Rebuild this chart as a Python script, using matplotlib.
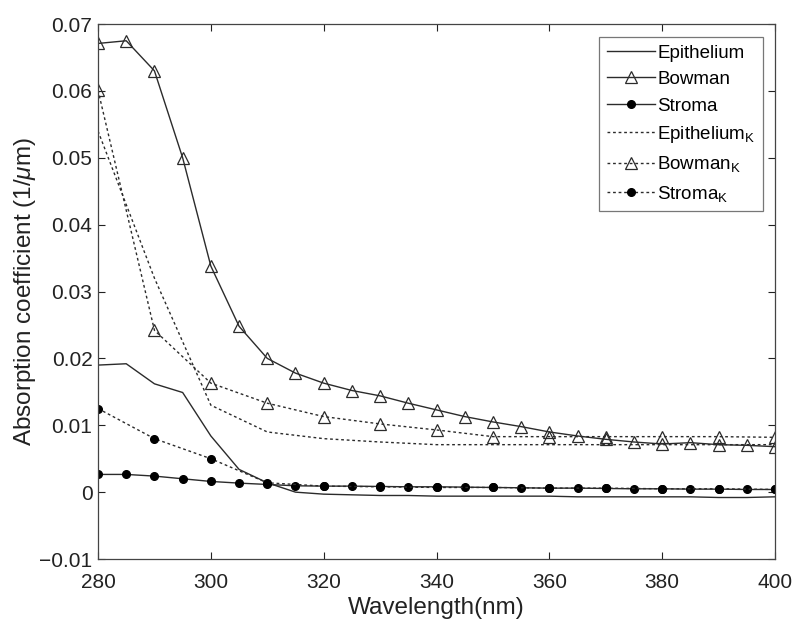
import numpy as np
import matplotlib
matplotlib.use('Agg')
import matplotlib.pyplot as plt

# --------------------------------------------------------------
# Data
# --------------------------------------------------------------
wl = np.arange(280, 401, 5)
wl_k = np.arange(280, 401, 10)

epithelium = [0.0190, 0.0192, 0.0162, 0.0149, 0.0084, 0.0034, 0.0014, 0.0000,
              -0.0003, -0.0004, -0.0005, -0.0005, -0.0006, -0.0006, -0.0006,
              -0.0006, -0.0006, -0.0007, -0.0007, -0.0007, -0.0007, -0.0007,
              -0.0008, -0.0008, -0.0007]
bowman = [0.0671, 0.0675, 0.0630, 0.0500, 0.0338, 0.0248, 0.0200, 0.0178,
          0.0163, 0.0152, 0.0144, 0.0133, 0.0123, 0.0113, 0.0105, 0.0098,
          0.0090, 0.0084, 0.0079, 0.0075, 0.0072, 0.0074, 0.0071, 0.0070,
          0.0068]
stroma = [0.00265, 0.00265, 0.0024, 0.0020, 0.0016, 0.00135, 0.00115, 0.00095,
          0.0009, 0.0009, 0.00085, 0.0008, 0.0008, 0.00075, 0.0007, 0.00065,
          0.0006, 0.0006, 0.00055, 0.0005, 0.0005, 0.00045, 0.00045, 0.0004,
          0.0004]

epithelium_k = [0.0540, 0.0320, 0.0130, 0.0090, 0.0080, 0.0075, 0.0071,
                0.0071, 0.0071, 0.0071, 0.0071, 0.0071, 0.0071]
bowman_k = [0.0601, 0.0242, 0.0163, 0.0133, 0.0113, 0.0102, 0.0093,
            0.0083, 0.0083, 0.0083, 0.0083, 0.0083, 0.0082]
stroma_k = [0.0125, 0.0080, 0.0050, 0.0014, 0.0009, 0.0008, 0.0007,
            0.0007, 0.0006, 0.0006, 0.0005, 0.0005, 0.0004]

# --------------------------------------------------------------
# Plot settings
# --------------------------------------------------------------
plt.rcParams['font.family'] = ['Liberation Sans', 'DejaVu Sans']
plt.rcParams['mathtext.fontset'] = 'custom'
plt.rcParams['mathtext.rm'] = 'Liberation Sans'
plt.rcParams['mathtext.it'] = 'Liberation Sans:italic'

col = '#2b2b2b'
dash = (0, (2.0, 2.0))

fig = plt.figure(figsize=(7.95, 6.23), dpi=100)
ax = fig.add_axes([0.1233, 0.1027, 0.8516, 0.8587])

ax.plot(wl, epithelium, color=col, lw=1.0, label='Epithelium')
ax.plot(wl, bowman, color=col, lw=1.0, marker='^', ms=9, mfc='none',
        mec=col, mew=0.9, label='Bowman')
ax.plot(wl, stroma, color=col, lw=1.0, marker='o', ms=5.5, mfc='black',
        mec='black', label='Stroma')
ax.plot(wl_k, epithelium_k, color=col, lw=1.0, ls=dash,
        label=r'Epithelium$_\mathregular{K}$')
ax.plot(wl_k, bowman_k, color=col, lw=1.0, ls=dash, marker='^', ms=9,
        mfc='none', mec=col, mew=0.9, label=r'Bowman$_\mathregular{K}$')
ax.plot(wl_k, stroma_k, color=col, lw=1.0, ls=dash, marker='o', ms=5.5,
        mfc='black', mec='black', label=r'Stroma$_\mathregular{K}$')

ax.set_xlim(280, 400)
ax.set_ylim(-0.01, 0.07)
ax.set_xticks(np.arange(280, 401, 20))
ax.set_yticks(np.arange(-0.01, 0.0701, 0.01))
ax.set_yticklabels(['\u22120.01', '0', '0.01', '0.02', '0.03', '0.04',
                    '0.05', '0.06', '0.07'])

ax.tick_params(direction='in', length=5, width=0.8, top=True, right=True,
               labelsize=15, colors='#222222')
ax.tick_params(axis='x', pad=10)
ax.tick_params(axis='y', pad=4)
for s in ax.spines.values():
    s.set_color('#444444')
    s.set_linewidth(0.9)

ax.set_xlabel('Wavelength(nm)', fontsize=17.5, color='#222222', labelpad=4)
ax.set_ylabel(r'Absorption coefficient (1/$\mathit{\mu}$m)', fontsize=17.5,
              color='#222222', labelpad=1)

leg = ax.legend(loc='upper right', bbox_to_anchor=(0.9825, 0.976),
                fontsize=13.5, frameon=True, fancybox=False, handlelength=2.6,
                handletextpad=0.1, labelspacing=0.5, borderpad=0.4,
                borderaxespad=0.0)
leg.get_frame().set_edgecolor('#555555')
leg.get_frame().set_linewidth(0.9)

plt.savefig('out.png', dpi=100)
